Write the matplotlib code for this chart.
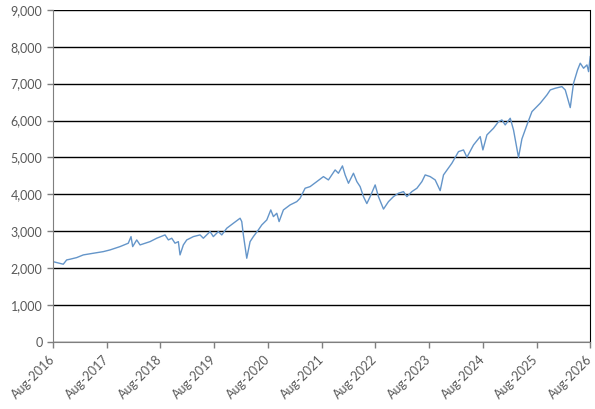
import matplotlib
matplotlib.use('Agg')
import matplotlib.pyplot as plt
from matplotlib.ticker import FuncFormatter

# index level, time as decimal years
years = [2016.583, 2016.775, 2016.838, 2016.900, 2017.024, 2017.148, 2017.334, 2017.520,
         2017.645, 2017.831, 2017.985, 2018.036, 2018.067, 2018.142, 2018.204, 2018.390,
         2018.514, 2018.669, 2018.731, 2018.794, 2018.855, 2018.917, 2018.948, 2019.010,
         2019.073, 2019.196, 2019.321, 2019.382, 2019.507, 2019.568, 2019.661, 2019.725,
         2019.818, 2019.941, 2020.066, 2020.097, 2020.127, 2020.190, 2020.252, 2020.313,
         2020.406, 2020.470, 2020.563, 2020.637, 2020.686, 2020.749, 2020.792, 2020.872,
         2020.997, 2021.121, 2021.183, 2021.276, 2021.369, 2021.494, 2021.617, 2021.710,
         2021.835, 2021.896, 2021.971, 2022.021, 2022.083, 2022.176, 2022.239, 2022.300,
         2022.362, 2022.425, 2022.487, 2022.580, 2022.641, 2022.735, 2022.828, 2022.921,
         2023.014, 2023.107, 2023.170, 2023.263, 2023.357, 2023.450, 2023.511, 2023.604,
         2023.697, 2023.790, 2023.852, 2024.008, 2024.131, 2024.224, 2024.288, 2024.411,
         2024.535, 2024.585, 2024.660, 2024.783, 2024.876, 2024.939, 2025.000, 2025.094,
         2025.155, 2025.248, 2025.311, 2025.405, 2025.498, 2025.652, 2025.777, 2025.839,
         2025.932, 2026.056, 2026.118, 2026.211, 2026.272, 2026.347, 2026.397, 2026.459,
         2026.522, 2026.552, 2026.583]
values = [2176, 2106, 2222, 2241, 2285, 2358, 2403, 2447,
          2493, 2583, 2675, 2854, 2583, 2764, 2629, 2718,
          2810, 2900, 2764, 2810, 2675, 2718, 2358, 2629,
          2764, 2854, 2900, 2810, 2990, 2854, 2990, 2900,
          3081, 3216, 3352, 3261, 2900, 2268, 2718, 2854,
          3035, 3171, 3306, 3577, 3396, 3487, 3261, 3577,
          3713, 3802, 3894, 4165, 4209, 4345, 4480, 4390,
          4661, 4571, 4770, 4526, 4300, 4571, 4345, 4209,
          3938, 3750, 3938, 4255, 3938, 3600, 3802, 3938,
          4029, 4073, 3938, 4073, 4165, 4345, 4526, 4480,
          4390, 4100, 4526, 4843, 5157, 5203, 5005, 5339,
          5564, 5203, 5610, 5791, 5970, 6016, 5881, 6062,
          5745, 5000, 5500, 5881, 6241, 6469, 6694, 6829,
          6875, 6919, 6829, 6350, 7009, 7371, 7553, 7417,
          7507, 7325, 7732]

tick_labels = ['Aug-2016', 'Aug-2017', 'Aug-2018', 'Aug-2019', 'Aug-2020', 'Aug-2021',
               'Aug-2022', 'Aug-2023', 'Aug-2024', 'Aug-2025', 'Aug-2026']
y_ticks = [0, 1000, 2000, 3000, 4000, 5000, 6000, 7000, 8000, 9000]

plt.rcParams['font.family'] = ['Lato', 'DejaVu Sans']

fig = plt.figure(figsize=(5.95, 4.09), dpi=100)
ax = fig.add_axes([0.089, 0.164, 0.903, 0.812])

ax.plot(years, values, color='#6495c9', lw=1.0)

start = years[0]
x_ticks = [start + i for i in range(len(tick_labels))]
ax.set_xlim(x_ticks[0], x_ticks[-1])
ax.set_ylim(0, 9000)
ax.set_yticks(y_ticks)
ax.yaxis.set_major_formatter(FuncFormatter(lambda v, p: '{:,.0f}'.format(v)))
ax.set_xticks(x_ticks)
ax.set_xticklabels(tick_labels, rotation=45, ha='right', va='center',
                   rotation_mode='anchor')
ax.grid(axis='y', color='black', lw=1.0)
ax.set_axisbelow(True)

ax.tick_params(axis='both', colors='#7f7f7f', labelcolor='#595959', labelsize=9,
               length=4, width=1, direction='out')
ax.tick_params(axis='x', pad=7)
ax.spines['top'].set_visible(False)
ax.spines['left'].set_color('#7f7f7f')
ax.spines['bottom'].set_color('#7f7f7f')
ax.spines['right'].set_color('black')

fig.savefig('out.png', dpi=100)
